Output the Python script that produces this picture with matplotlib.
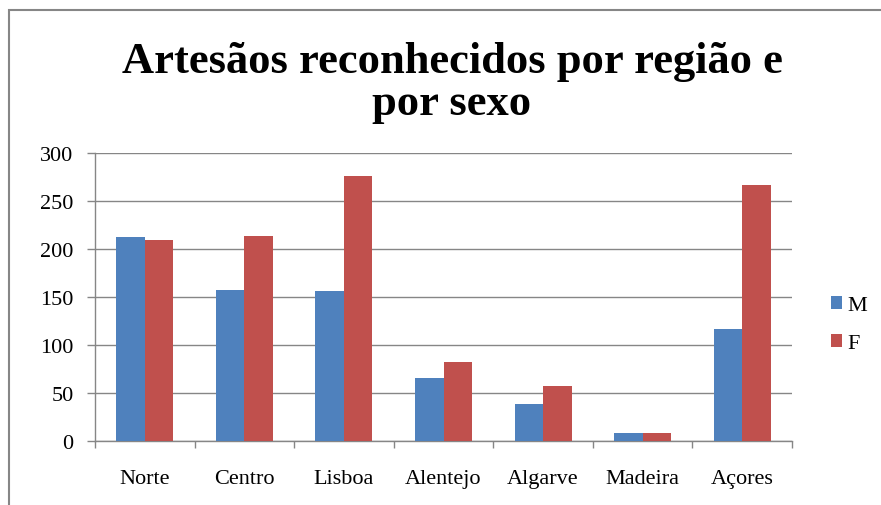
import matplotlib
matplotlib.use("Agg")
import matplotlib.pyplot as plt
import numpy as np
from matplotlib.patches import Rectangle

categories = ["Norte", "Centro", "Lisboa", "Alentejo", "Algarve", "Madeira", "Açores"]
male = [213, 157, 156, 66, 39, 8, 117]
female = [209, 214, 276, 82, 57, 8, 267]
series_labels = ["M", "F"]
yticks = [0, 50, 100, 150, 200, 250, 300]
title_lines = ["Artesãos reconhecidos por região e", "por sexo"]

plt.rcParams['font.family'] = ['Liberation Serif', 'DejaVu Serif']

W, H = 881, 506
fig = plt.figure(figsize=(W / 100, H / 100), dpi=100)
fig.patch.set_facecolor("white")

# outer chart border (cut off at right and bottom)
fig.patches.append(Rectangle((9 / W, -0.1), 1.2, 1 - 11 / H + 0.1, transform=fig.transFigure,
                             fill=False, edgecolor="#868686", linewidth=1.5, zorder=0))

ax = fig.add_axes([95 / W, 1 - 442 / H, (792 - 95) / W, (442 - 154) / H])
x = np.arange(len(categories))
bw = 1 / 3.5
ax.bar(x - bw / 2, male, bw, color="#4F81BD", label=series_labels[0], zorder=3)
ax.bar(x + bw / 2, female, bw, color="#C0504D", label=series_labels[1], zorder=3)

ax.set_xlim(-0.5, len(categories) - 0.5)
ax.set_ylim(0, 300)
ax.set_yticks(yticks)
ax.set_yticklabels([str(v) for v in yticks])
ax.set_xticks(x)
ax.set_xticklabels(categories)
ax.set_xticks(np.arange(len(categories) + 1) - 0.5, minor=True)
ax.tick_params(axis="x", which="major", length=0, pad=20, labelsize=16)
ax.tick_params(axis="x", which="minor", length=5, width=1, color="#868686", direction="out")
ax.tick_params(axis="y", which="major", length=6, width=1, color="#868686", pad=9.5, labelsize=16)

ax.grid(axis="y", color="#868686", linewidth=1, zorder=0)
ax.set_axisbelow(True)
for s in ["top", "right"]:
    ax.spines[s].set_visible(False)
for s in ["left", "bottom"]:
    ax.spines[s].set_color("#868686")
    ax.spines[s].set_linewidth(1)

fig.text(452 / W, 1 - 73 / H, title_lines[0], ha="center", va="baseline", fontsize=32,
         fontweight="bold")
fig.text(452 / W, 1 - 115 / H, title_lines[1], ha="center", va="baseline", fontsize=32,
         fontweight="bold")

leg = ax.legend(loc="center left", bbox_to_anchor=(831 / W, 1 - 325.5 / H),
                bbox_transform=fig.transFigure, frameon=False, fontsize=16,
                borderpad=0, borderaxespad=0,
                handlelength=0.5, handleheight=0.5, handletextpad=0.25, labelspacing=0.85)

fig.savefig("out.png", dpi=100)
